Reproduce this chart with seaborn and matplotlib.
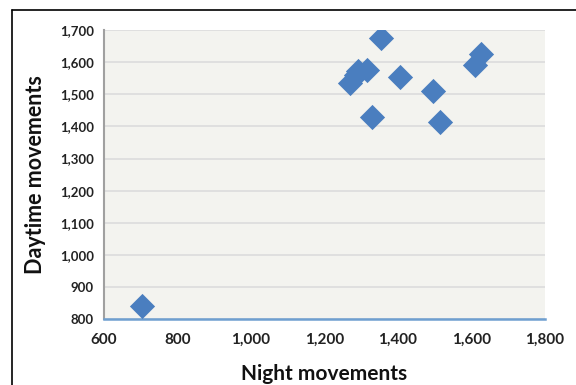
import matplotlib
matplotlib.use("Agg")
import matplotlib.pyplot as plt
import seaborn as sns
import pandas as pd
from matplotlib.ticker import FuncFormatter, MultipleLocator
from matplotlib.lines import Line2D

night = [705, 1270, 1285, 1292, 1315, 1330, 1355, 1405, 1495, 1515, 1610, 1625]
day = [840, 1535, 1560, 1572, 1575, 1428, 1675, 1555, 1510, 1415, 1592, 1625]

df = pd.DataFrame({"Night movements": night, "Daytime movements": day})

sns.set_theme(style="white")
plt.rcParams["font.family"] = ["Lato", "DejaVu Sans"]

fig = plt.figure(figsize=(5.76, 3.85), dpi=100)
ax = fig.add_axes([0.180, 0.171, 0.766, 0.751])
ax.set_facecolor("#F3F3EF")

sns.scatterplot(data=df, x="Night movements", y="Daytime movements", ax=ax,
                marker="D", s=165, color="#4A7EBF", edgecolor="#4A7EBF",
                linewidth=0, zorder=3)

ax.set_xlim(600, 1800)
ax.set_ylim(800, 1700)
ax.xaxis.set_major_locator(MultipleLocator(200))
ax.yaxis.set_major_locator(MultipleLocator(100))
fmt = FuncFormatter(lambda v, p: f"{int(v):,}")
ax.xaxis.set_major_formatter(fmt)
ax.yaxis.set_major_formatter(fmt)
ax.grid(axis="y", color="#DCDCDC", linewidth=1.2, zorder=0)
ax.set_axisbelow(True)

for s in ["top", "right"]:
    ax.spines[s].set_visible(False)
ax.spines["left"].set_color("#A0A0A0")
ax.spines["left"].set_linewidth(1.5)
ax.spines["bottom"].set_color("#6E9FD0")
ax.spines["bottom"].set_linewidth(1.8)

ax.tick_params(axis="x", labelsize=11, pad=10, length=0, colors="#222222")
ax.tick_params(axis="y", labelsize=9.5, pad=7, length=0, colors="#222222")
for lab in ax.get_xticklabels() + ax.get_yticklabels():
    lab.set_fontweight("bold")

ax.set_xlabel("Night movements", fontsize=15, fontweight="bold", labelpad=12, color="#111111")
ax.set_ylabel("Daytime movements", fontsize=15.5, fontweight="bold", labelpad=10, color="#111111")

top = 1 - 9.5 / 385
left = 12 / 576
fig.add_artist(Line2D([left, 1.0], [top, top], transform=fig.transFigure,
                      color="black", linewidth=1.2))
fig.add_artist(Line2D([left, left], [0.0, top], transform=fig.transFigure,
                      color="black", linewidth=1.2))

fig.savefig("out.png", dpi=100)
